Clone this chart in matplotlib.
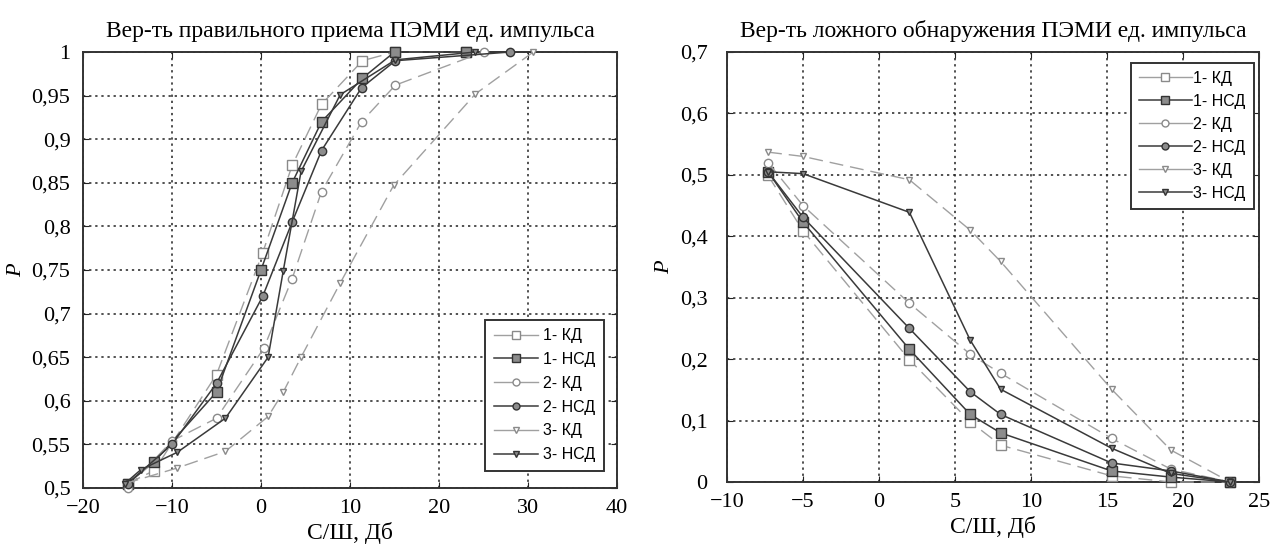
import matplotlib
matplotlib.use("Agg")
import matplotlib.pyplot as plt
from matplotlib.lines import Line2D

# ---------------- data: left chart (correct reception) ----------------
l1_kd_x = [-15, -12, -5, 0.2, 3.5, 6.8, 11.4, 15, 23]
l1_kd_y = [0.505, 0.52, 0.63, 0.77, 0.87, 0.94, 0.99, 1.0, 1.0]
l1_nsd_x = [-15, -12, -5, 0.0, 3.5, 6.8, 11.4, 15, 23]
l1_nsd_y = [0.505, 0.53, 0.61, 0.75, 0.85, 0.92, 0.97, 1.0, 1.0]
l2_kd_x = [-15, -10, -5, 0.3, 3.5, 6.8, 11.3, 15.1, 25]
l2_kd_y = [0.50, 0.554, 0.58, 0.66, 0.74, 0.84, 0.92, 0.962, 1.0]
l2_nsd_x = [-15, -10, -5, 0.2, 3.5, 6.8, 11.3, 15.1, 28]
l2_nsd_y = [0.505, 0.55, 0.62, 0.72, 0.805, 0.887, 0.959, 0.99, 1.0]
l3_kd_x = [-15.3, -9.4, -4.0, 0.8, 2.5, 4.5, 8.9, 14.9, 24.1, 30.6]
l3_kd_y = [0.505, 0.523, 0.542, 0.582, 0.61, 0.65, 0.735, 0.847, 0.952, 1.0]
l3_nsd_x = [-15.3, -13.5, -9.4, -4.0, 0.8, 2.5, 4.5, 8.9, 15.1, 24.1]
l3_nsd_y = [0.505, 0.521, 0.541, 0.58, 0.65, 0.749, 0.863, 0.951, 0.991, 1.0]

# ---------------- data: right chart (false detection) ----------------
r_x = [-7.3, -5, 2, 6, 8, 15.3, 19.2, 23.1]
r1_kd = [0.499, 0.409, 0.199, 0.098, 0.06, 0.01, 0.0, 0.0]
r1_nsd = [0.505, 0.423, 0.216, 0.11, 0.08, 0.018, 0.008, 0.0]
r2_kd = [0.52, 0.45, 0.291, 0.208, 0.177, 0.071, 0.021, 0.0]
r2_nsd = [0.505, 0.431, 0.25, 0.147, 0.11, 0.031, 0.018, 0.0]
r3_kd = [0.537, 0.53, 0.492, 0.41, 0.359, 0.151, 0.052, 0.0]
r3_nsd = [0.505, 0.502, 0.439, 0.231, 0.151, 0.055, 0.014, 0.0]

series_labels = ["1- КД", "1- НСД", "2- КД", "2- НСД", "3- КД", "3- НСД"]

left_xticks = [-20, -10, 0, 10, 20, 30, 40]
left_xlabels = ["\u221220", "\u221210", "0", "10", "20", "30", "40"]
left_yticks = [0.5, 0.55, 0.6, 0.65, 0.7, 0.75, 0.8, 0.85, 0.9, 0.95, 1.0]
left_ylabels = ["0,5", "0,55", "0,6", "0,65", "0,7", "0,75", "0,8", "0,85", "0,9", "0,95", "1"]
right_xticks = [-10, -5, 0, 5, 10, 15, 20, 25]
right_xlabels = ["\u221210", "\u22125", "0", "5", "10", "15", "20", "25"]
right_yticks = [0, 0.1, 0.2, 0.3, 0.4, 0.5, 0.6, 0.7]
right_ylabels = ["0", "0,1", "0,2", "0,3", "0,4", "0,5", "0,6", "0,7"]

left_title = "Вер-ть правильного приема ПЭМИ ед. импульса"
right_title = "Вер-ть ложного обнаружения ПЭМИ ед. импульса"
xlabel_text = "С/Ш, Дб"
ylabel_text = "P"

# ---------------- styles ----------------
KD_COLOR = "#a0a0a0"
NSD_COLOR = "#3a3a3a"
markers = ["s", "s", "o", "o", "v", "v"]
styles = []
for i in range(6):
    if i % 2 == 0:
        styles.append(dict(color=KD_COLOR, ls=(0, (10, 5)), lw=1.0, marker=markers[i],
                           mfc="white", mec="#8a8a8a", mew=1.0))
    else:
        styles.append(dict(color=NSD_COLOR, ls="-", lw=1.1, marker=markers[i],
                           mfc="#8c8c8c", mec="#333333", mew=1.0))
msizes = [6.5, 6.5, 6, 6, 5, 5]

serif = ["Liberation Serif", "DejaVu Serif"]
sans = ["Liberation Sans", "DejaVu Sans"]

fig = plt.figure(figsize=(12.81, 5.46), dpi=100)
axL = fig.add_axes([83 / 1281, 1 - 488 / 546, 534 / 1281, 436 / 546])
axR = fig.add_axes([727 / 1281, 1 - 482 / 546, 532 / 1281, 430 / 546])

left_data = [(l1_kd_x, l1_kd_y), (l1_nsd_x, l1_nsd_y), (l2_kd_x, l2_kd_y),
             (l2_nsd_x, l2_nsd_y), (l3_kd_x, l3_kd_y), (l3_nsd_x, l3_nsd_y)]
right_data = [r1_kd, r1_nsd, r2_kd, r2_nsd, r3_kd, r3_nsd]

for i, (xs, ys) in enumerate(left_data):
    axL.plot(xs, ys, ms=msizes[i], clip_on=False, zorder=3, **styles[i])
for i, ys in enumerate(right_data):
    axR.plot(r_x, ys, ms=msizes[i], clip_on=False, zorder=3, **styles[i])


def handles():
    hs = []
    for i in range(6):
        st = dict(styles[i])
        st["ls"] = "-"
        hs.append(Line2D([], [], ms=msizes[i] - 1, **st))
    return hs


def style_axes(ax, xt, xl, yt, yl, xlim, ylim, title, ypad):
    ax.set_xlim(*xlim)
    ax.set_ylim(*ylim)
    ax.set_xticks(xt, xl)
    ax.set_yticks(yt, yl)
    for lab in ax.get_xticklabels() + ax.get_yticklabels():
        lab.set_fontfamily(serif)
        lab.set_fontsize(16)
    ax.tick_params(axis="x", direction="in", top=True, length=4, pad=8, colors="#222222",
                   labelcolor="black")
    ax.tick_params(axis="y", direction="in", right=True, length=4, pad=ypad, colors="#222222",
                   labelcolor="black")
    ax.grid(True, color="#222222", ls=(0, (1.5, 2.5)), lw=1.1)
    for sp in ax.spines.values():
        sp.set_linewidth(1.4)
        sp.set_color("#333333")
    ax.set_title(title, fontfamily=serif, fontsize=17, pad=11)
    ax.set_xlabel(xlabel_text, fontfamily=serif, fontsize=17, labelpad=3)
    ax.set_axisbelow(True)


style_axes(axL, left_xticks, left_xlabels, left_yticks, left_ylabels,
           (-20, 40), (0.5, 1.0), left_title, 9)
style_axes(axR, right_xticks, right_xlabels, right_yticks, right_ylabels,
           (-10, 25), (0, 0.7), right_title, 14)

axL.set_ylabel(ylabel_text, fontfamily=serif, fontsize=16, style="italic", labelpad=4)
axR.set_ylabel(ylabel_text, fontfamily=serif, fontsize=16, style="italic", labelpad=4)

legL = axL.legend(handles(), series_labels, loc="lower right", bbox_to_anchor=(0.976, 0.039),
                  prop={"family": sans, "size": 11.5}, frameon=True, fancybox=False,
                  edgecolor="#333333", framealpha=1, handlelength=2.8, handletextpad=0.3,
                  labelspacing=0.55, borderpad=0.55, borderaxespad=0)
legL.get_frame().set_linewidth(1.4)

legR = axR.legend(handles(), series_labels, loc="upper right", bbox_to_anchor=(0.99, 0.975),
                  prop={"family": sans, "size": 11.5}, frameon=True, fancybox=False,
                  edgecolor="#333333", framealpha=1, handlelength=3.3, handletextpad=0.1,
                  labelspacing=0.5, borderpad=0.5, borderaxespad=0)
legR.get_frame().set_linewidth(1.4)

fig.savefig("out.png", dpi=100)
